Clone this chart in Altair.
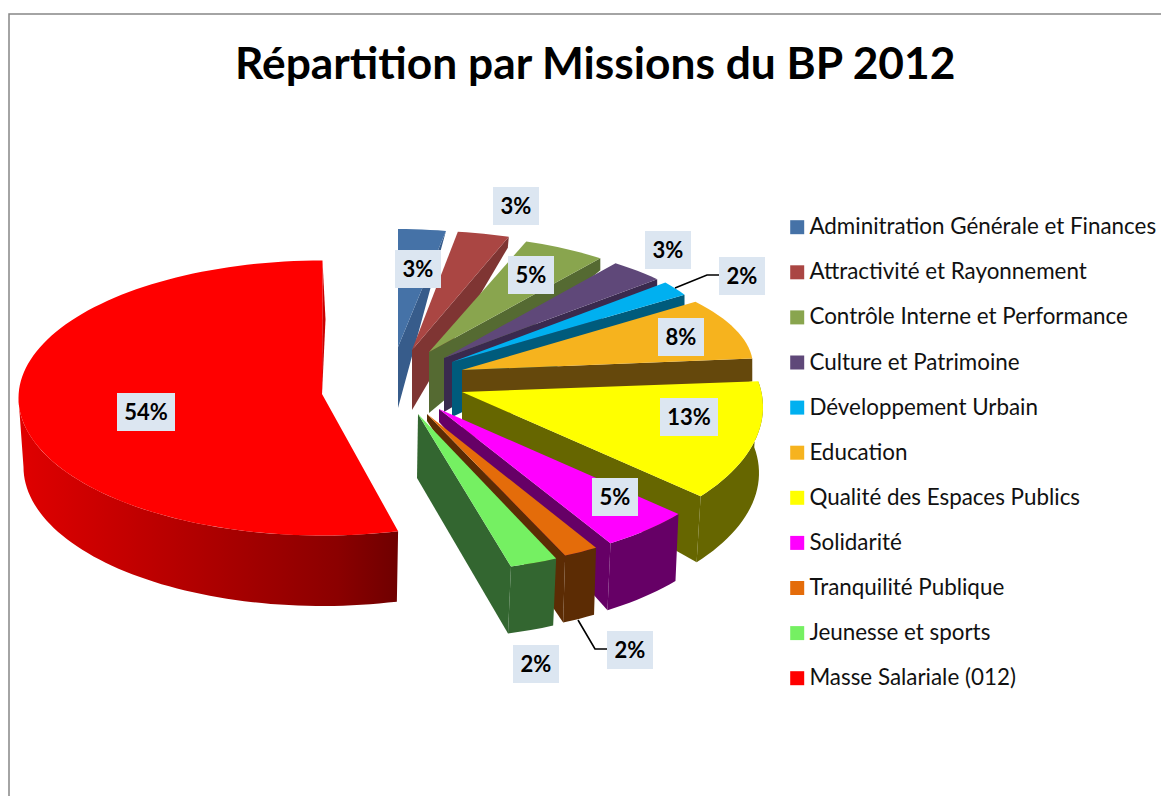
import math
import altair as alt

# ---------- values ----------
missions = ["Adminitration Générale et Finances", "Attractivité et Rayonnement",
            "Contrôle Interne et Performance", "Culture et Patrimoine",
            "Développement Urbain", "Education", "Qualité des Espaces Publics",
            "Solidarité", "Tranquilité Publique", "Jeunesse et sports",
            "Masse Salariale (012)"]
percents = [3, 3, 5, 3, 2, 8, 13, 5, 2, 2, 54]
top_colors = ["#4572A7", "#AA4643", "#89A54E", "#5F4879", "#00B0F0", "#F6B31E",
              "#FFFF00", "#FF00FF", "#E46C0A", "#75F062", "#FF0000"]
side_colors = ["#375C8B", "#7F3533", "#556A32", "#3A2A4E", "#005B7C", "#65480C",
               "#666600", "#660066", "#5C2C04", "#336630", "#CC0000"]

# ---------- layout of the tilted, exploded pie ----------
ellipse_cx = [398, 405, 425, 416, 465, 383, 450, 478, 465, 417, 322.5]
ellipse_cy = [340, 326, 340, 355, 359, 366, 407, 410, 418, 368, 398]
ellipse_rx = [256, 282, 275, 313, 260, 370, 313, 275, 272, 378, 304]
ellipse_ry = [111, 96, 106, 119, 120, 120, 149, 152, 148, 205, 137.5]
phase_deg = [0, 0, 0, 0, 0, 0, -6.4, 0, 0, 0, 0]
apex_x = [398, 412, 429, 444, 452, 462, 462, 439, 427, 418, 322]
apex_y = [347, 350, 352, 358, 362, 370, 392, 409, 414, 414, 394]
apex_bottom_x = [398, 412, 429, 444, 452, 462, 462, 439, 427, 417, 322]
apex_bottom_y = [408, 410, 413, 412, 417, 420, 430, 422, 421, 478, 394]
end_dx = [-3, -1, 0, 0, 0, 0, -4, -3, -2, -3, 3]
end_dy = [11, 11, 12, 7, 11, 23, 66, 67, 67, 67, 59]
outer_wall = [False] * 6 + [True] * 4 + [False]
label_cx = [418, 516, 531, 668, 742, 681, 689, 615, 630, 536, 146]
label_cy = [269, 206, 275, 250, 276, 337, 417, 497, 650, 664, 412]
leaders = {"Développement Urbain": [(675, 288), (707, 275), (719, 275)],
           "Tranquilité Publique": [(578, 620), (595, 649), (607, 649)]}
OFF = 8  # page margin


def poly(points, key):
    ring = [[x - OFF, y - OFF] for x, y in points]
    ring.append(ring[0])
    return {"type": "Feature", "properties": {"k": key},
            "geometry": {"type": "Polygon", "coordinates": [ring]}}


features = []
boxes = []
texts = []
cum = 0.0
red_wall = None
for i, (name, pct) in enumerate(zip(missions, percents)):
    a0 = math.radians(cum * 3.6 + phase_deg[i])
    cum += pct
    a1 = math.radians(cum * 3.6 + phase_deg[i])
    n = max(4, int(pct * 2))
    arc = []
    for j in range(n + 1):
        a = a0 + (a1 - a0) * j / n
        arc.append((ellipse_cx[i] + ellipse_rx[i] * math.sin(a),
                    ellipse_cy[i] - ellipse_ry[i] * math.cos(a)))
    side = name + " (côté)"
    apex = (apex_x[i], apex_y[i])
    features.append(poly([apex, (apex_bottom_x[i], apex_bottom_y[i]),
                          (arc[-1][0] + end_dx[i], arc[-1][1] + end_dy[i]), arc[-1]], side))
    if outer_wall[i]:
        low = [(x + end_dx[i], y + end_dy[i]) for x, y in arc]
        features.append(poly(arc + low[::-1], side))
    features.append(poly([apex] + arc, name))
    # red slice: outer wall filled with a gradient, on a layer of its own
    if i == len(missions) - 1:
        lo_a = a0
        hi_a = math.radians(270)
        steps = 60
        up, down = [], []
        for j in range(steps + 1):
            a = lo_a + (hi_a - lo_a) * j / steps
            up.append((ellipse_cx[i] + ellipse_rx[i] * math.sin(a),
                       ellipse_cy[i] - ellipse_ry[i] * math.cos(a)))
            down.append((ellipse_cx[i] + 299 * math.sin(a),
                         ellipse_cy[i] + 69 - 139 * math.cos(a)))
        red_wall = poly(up + down[::-1], "mur")
    w = 58 if pct >= 10 else 46
    boxes.append(poly([(label_cx[i] - w / 2, label_cy[i] - 19), (label_cx[i] + w / 2, label_cy[i] - 19),
                       (label_cx[i] + w / 2, label_cy[i] + 19), (label_cx[i] - w / 2, label_cy[i] + 19)], "boîte"))
    texts.append({"t": f"{pct}%", "x": label_cx[i] - OFF, "y": label_cy[i] - OFF + 1})

features += boxes

domain = missions + [m + " (côté)" for m in missions] + ["boîte"]
color_range = top_colors + side_colors + ["#DCE6F1"]

wall = alt.Chart(alt.Data(values=[red_wall], format=alt.DataFormat(type="json"))).mark_geoshape(
    fill=alt.Gradient(gradient="linear", x1=0, x2=1, y1=0, y2=0, stops=[
        alt.GradientStop(color="#E00000", offset=0),
        alt.GradientStop(color="#C40000", offset=0.28),
        alt.GradientStop(color="#A50000", offset=0.58),
        alt.GradientStop(color="#8B0000", offset=0.84),
        alt.GradientStop(color="#6F0000", offset=1)]),
    stroke=None).project(type="identity", scale=1, translate=[0, 0])

pie = alt.Chart(alt.Data(values=features, format=alt.DataFormat(type="json"))).mark_geoshape(stroke=None).encode(
    color=alt.Color("properties.k:N", scale=alt.Scale(domain=domain, range=color_range),
                    legend=alt.Legend(values=missions, title=None, orient="none",
                                      legendX=778, legendY=208, symbolType="square",
                                      symbolSize=196, symbolStrokeWidth=0, labelFont="Lato",
                                      labelFontSize=22.4, labelColor="#111111", labelLimit=400,
                                      labelOffset=1, rowPadding=22.1, symbolOffset=0,
                                      padding=0))
).project(type="identity", scale=1, translate=[0, 0])

line_rows = []
for key, pts in leaders.items():
    for o, (x, y) in enumerate(pts):
        line_rows.append({"g": key, "o": o, "x": x - OFF, "y": y - OFF})
leader_lines = alt.Chart(alt.Data(values=line_rows)).mark_line(color="#000000", strokeWidth=1.6).encode(
    x=alt.X("x:Q", scale=None, axis=None), y=alt.Y("y:Q", scale=None, axis=None),
    detail="g:N", order="o:Q")

border_rows = [{"g": "cadre", "o": 0, "x": 1, "y": 788},
               {"g": "cadre", "o": 1, "x": 1, "y": 6},
               {"g": "cadre", "o": 2, "x": 1153, "y": 6}]
border = alt.Chart(alt.Data(values=border_rows)).mark_line(color="#868686", strokeWidth=1.5).encode(
    x=alt.X("x:Q", scale=None, axis=None), y=alt.Y("y:Q", scale=None, axis=None),
    detail="g:N", order="o:Q")

labels = alt.Chart(alt.Data(values=texts)).mark_text(
    font="Lato", fontWeight="bold", fontSize=22, color="#000000", align="center", baseline="middle"
).encode(x=alt.X("x:Q", scale=None, axis=None), y=alt.Y("y:Q", scale=None, axis=None), text="t:N")

chart = alt.layer(border, wall, pie, leader_lines, labels).properties(
    width=1153, height=788, padding=0,
    autosize=alt.AutoSizeParams(type="none"),
    title=alt.TitleParams("Répartition par Missions du BP 2012", font="Lato", fontWeight="bold",
                          fontSize=44.3, color="#000000", anchor="start", frame="group",
                          dx=227, dy=115, offset=0, baseline="alphabetic")
).configure_view(stroke=None)

chart.save("out.html", embed_options={"renderer": "svg", "actions": False})
